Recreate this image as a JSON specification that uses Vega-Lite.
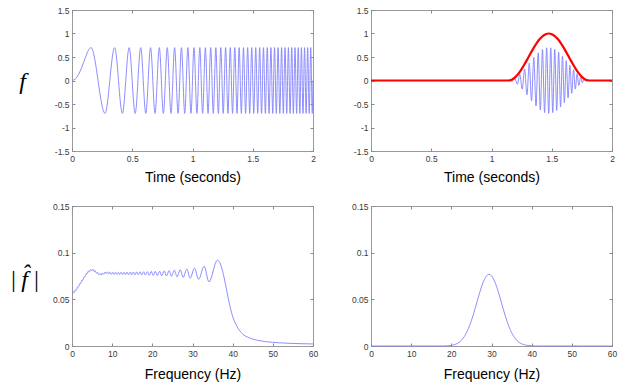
{
  "$schema": "https://vega.github.io/schema/vega-lite/v6.json",
  "background": "white",
  "padding": {"left": 8, "top": 5, "right": 5, "bottom": 5},
  "bounds": "flush",
  "spacing": {"row": 55, "column": 58},
  "columns": 2,
  "config": {
    "font": "Liberation Sans",
    "view": {"stroke": "#9a9a9a", "strokeWidth": 1},
    "axis": {"domain": false, "grid": false, "ticks": true, "tickSize": -3, "tickColor": "#8a8a8a", "tickWidth": 1, "labelFontSize": 8.5, "labelColor": "#3a3a3a", "labelFont": "Liberation Sans", "labelFlush": false, "labelOverlap": false, "titleFont": "Liberation Sans", "titleFontSize": 14, "titleFontWeight": "normal", "titleColor": "#000000", "labelPadding": 6}
  },
  "datasets": {
    "chirp": [{"t":0,"v":0},{"t":0.0354,"v":0.055},{"t":0.0559,"v":0.137},{"t":0.0791,"v":0.268},{"t":0.1118,"v":0.495},{"t":0.1369,"v":0.647},{"t":0.1581,"v":0.7},{"t":0.2739,"v":-0.7},{"t":0.3536,"v":0.7},{"t":0.4183,"v":-0.7},{"t":0.4743,"v":0.7},{"t":0.5244,"v":-0.7},{"t":0.5701,"v":0.7},{"t":0.6124,"v":-0.7},{"t":0.6519,"v":0.7},{"t":0.6892,"v":-0.7},{"t":0.7246,"v":0.7},{"t":0.7583,"v":-0.7},{"t":0.7906,"v":0.7},{"t":0.8216,"v":-0.7},{"t":0.8515,"v":0.7},{"t":0.8803,"v":-0.7},{"t":0.9083,"v":0.7},{"t":0.9354,"v":-0.7},{"t":0.9618,"v":0.7},{"t":0.9874,"v":-0.7},{"t":1.0124,"v":0.7},{"t":1.0368,"v":-0.7},{"t":1.0607,"v":0.7},{"t":1.084,"v":-0.7},{"t":1.1068,"v":0.7},{"t":1.1292,"v":-0.7},{"t":1.1511,"v":0.7},{"t":1.1726,"v":-0.7},{"t":1.1937,"v":0.7},{"t":1.2145,"v":-0.7},{"t":1.2349,"v":0.7},{"t":1.255,"v":-0.7},{"t":1.2748,"v":0.7},{"t":1.2942,"v":-0.7},{"t":1.3134,"v":0.7},{"t":1.3323,"v":-0.7},{"t":1.3509,"v":0.7},{"t":1.3693,"v":-0.7},{"t":1.3874,"v":0.7},{"t":1.4053,"v":-0.7},{"t":1.423,"v":0.7},{"t":1.4405,"v":-0.7},{"t":1.4577,"v":0.7},{"t":1.4748,"v":-0.7},{"t":1.4916,"v":0.7},{"t":1.5083,"v":-0.7},{"t":1.5248,"v":0.7},{"t":1.5411,"v":-0.7},{"t":1.5572,"v":0.7},{"t":1.5732,"v":-0.7},{"t":1.589,"v":0.7},{"t":1.6047,"v":-0.7},{"t":1.6202,"v":0.7},{"t":1.6355,"v":-0.7},{"t":1.6508,"v":0.7},{"t":1.6658,"v":-0.7},{"t":1.6808,"v":0.7},{"t":1.6956,"v":-0.7},{"t":1.7103,"v":0.7},{"t":1.7248,"v":-0.7},{"t":1.7393,"v":0.7},{"t":1.7536,"v":-0.7},{"t":1.7678,"v":0.7},{"t":1.7819,"v":-0.7},{"t":1.7958,"v":0.7},{"t":1.8097,"v":-0.7},{"t":1.8235,"v":0.7},{"t":1.8371,"v":-0.7},{"t":1.8507,"v":0.7},{"t":1.8641,"v":-0.7},{"t":1.8775,"v":0.7},{"t":1.8908,"v":-0.7},{"t":1.9039,"v":0.7},{"t":1.917,"v":-0.7},{"t":1.93,"v":0.7},{"t":1.9429,"v":-0.7},{"t":1.9558,"v":0.7},{"t":1.9685,"v":-0.7},{"t":1.9812,"v":0.7},{"t":1.9937,"v":-0.7},{"t":2,"v":0}],
    "windowed": [{"t":0,"v":0},{"t":1.13,"v":0},{"t":1.1511,"v":0.0019},{"t":1.1726,"v":-0.0162},{"t":1.1937,"v":0.0434},{"t":1.2145,"v":-0.0814},{"t":1.2349,"v":0.1297},{"t":1.255,"v":-0.1847},{"t":1.2748,"v":0.2445},{"t":1.2942,"v":-0.3065},{"t":1.3134,"v":0.3694},{"t":1.3323,"v":-0.4307},{"t":1.3509,"v":0.4885},{"t":1.3693,"v":-0.5417},{"t":1.3874,"v":0.5884},{"t":1.4053,"v":-0.6279},{"t":1.423,"v":0.6592},{"t":1.4405,"v":-0.6818},{"t":1.4577,"v":0.6954},{"t":1.4748,"v":-0.7},{"t":1.4916,"v":0.6958},{"t":1.5083,"v":-0.6831},{"t":1.5248,"v":0.6626},{"t":1.5411,"v":-0.635},{"t":1.5572,"v":0.6011},{"t":1.5732,"v":-0.5617},{"t":1.589,"v":0.5183},{"t":1.6047,"v":-0.4715},{"t":1.6202,"v":0.4227},{"t":1.6355,"v":-0.373},{"t":1.6508,"v":0.3227},{"t":1.6658,"v":-0.2742},{"t":1.6808,"v":0.227},{"t":1.6956,"v":-0.183},{"t":1.7103,"v":0.1421},{"t":1.7248,"v":-0.1058},{"t":1.7393,"v":0.0739},{"t":1.7536,"v":-0.0478},{"t":1.7678,"v":0.0271},{"t":1.7819,"v":-0.0121},{"t":1.7958,"v":0.0031},{"t":1.8097,"v":0},{"t":2,"v":0}],
    "window": [{"t":0,"v":0},{"t":1.14,"v":0},{"t":1.15,"v":0.0022},{"t":1.175,"v":0.0267},{"t":1.2,"v":0.0771},{"t":1.225,"v":0.1501},{"t":1.25,"v":0.2427},{"t":1.275,"v":0.3497},{"t":1.3,"v":0.4647},{"t":1.325,"v":0.5816},{"t":1.35,"v":0.694},{"t":1.375,"v":0.7958},{"t":1.4,"v":0.8813},{"t":1.425,"v":0.946},{"t":1.45,"v":0.9863},{"t":1.475,"v":1},{"t":1.5,"v":0.9863},{"t":1.525,"v":0.946},{"t":1.55,"v":0.8813},{"t":1.575,"v":0.7958},{"t":1.6,"v":0.694},{"t":1.625,"v":0.5816},{"t":1.65,"v":0.4647},{"t":1.675,"v":0.3497},{"t":1.7,"v":0.2427},{"t":1.725,"v":0.1501},{"t":1.75,"v":0.0771},{"t":1.775,"v":0.0267},{"t":1.8,"v":0.0022},{"t":1.81,"v":0},{"t":2,"v":0}],
    "spec1": [{"f":0,"a":0.056},{"f":0.1,"a":0.0557},{"f":0.37,"a":0.0583},{"f":0.61,"a":0.0576},{"f":0.88,"a":0.0603},{"f":1.12,"a":0.06},{"f":1.39,"a":0.0633},{"f":1.63,"a":0.0633},{"f":1.92,"a":0.0668},{"f":2.16,"a":0.0668},{"f":2.44,"a":0.0703},{"f":2.69,"a":0.0704},{"f":2.98,"a":0.074},{"f":3.23,"a":0.074},{"f":3.53,"a":0.0775},{"f":3.78,"a":0.0772},{"f":4.08,"a":0.0803},{"f":4.34,"a":0.0795},{"f":4.64,"a":0.082},{"f":4.9,"a":0.0805},{"f":5.21,"a":0.0821},{"f":5.47,"a":0.0799},{"f":5.79,"a":0.0807},{"f":6.06,"a":0.0779},{"f":6.38,"a":0.0788},{"f":6.65,"a":0.0764},{"f":6.98,"a":0.0776},{"f":7.26,"a":0.0759},{"f":7.59,"a":0.0782},{"f":7.88,"a":0.0768},{"f":8.21,"a":0.0792},{"f":8.5,"a":0.0775},{"f":8.85,"a":0.0794},{"f":9.15,"a":0.0772},{"f":9.5,"a":0.0791},{"f":9.8,"a":0.0768},{"f":10.16,"a":0.079},{"f":10.47,"a":0.0766},{"f":10.84,"a":0.079},{"f":11.16,"a":0.0766},{"f":11.53,"a":0.079},{"f":11.86,"a":0.0766},{"f":12.24,"a":0.0791},{"f":12.58,"a":0.0765},{"f":12.97,"a":0.0791},{"f":13.32,"a":0.0764},{"f":13.72,"a":0.0792},{"f":14.08,"a":0.0764},{"f":14.5,"a":0.0793},{"f":14.86,"a":0.0763},{"f":15.29,"a":0.0793},{"f":15.67,"a":0.0762},{"f":16.12,"a":0.0794},{"f":16.51,"a":0.0762},{"f":16.97,"a":0.0795},{"f":17.37,"a":0.0761},{"f":17.86,"a":0.0796},{"f":18.27,"a":0.076},{"f":18.78,"a":0.0797},{"f":19.22,"a":0.0758},{"f":19.74,"a":0.0799},{"f":20.2,"a":0.0757},{"f":20.75,"a":0.08},{"f":21.24,"a":0.0755},{"f":21.82,"a":0.0802},{"f":22.34,"a":0.0753},{"f":22.96,"a":0.0805},{"f":23.51,"a":0.075},{"f":24.18,"a":0.0808},{"f":24.77,"a":0.0747},{"f":25.49,"a":0.0812},{"f":26.14,"a":0.0742},{"f":26.95,"a":0.0818},{"f":27.67,"a":0.0735},{"f":28.58,"a":0.0825},{"f":29.42,"a":0.0727},{"f":30.49,"a":0.0835},{"f":31.51,"a":0.0714},{"f":32.9,"a":0.0854},{"f":34.1,"a":0.0687},{"f":36.2,"a":0.092},{"f":36.8,"a":0.0893},{"f":37.42,"a":0.0813},{"f":38.26,"a":0.0652},{"f":39.08,"a":0.0473},{"f":39.91,"a":0.0329},{"f":41.15,"a":0.0204},{"f":42.4,"a":0.0132},{"f":44.06,"a":0.0089},{"f":46.55,"a":0.0058},{"f":49.87,"a":0.004},{"f":54.02,"a":0.0029},{"f":60,"a":0.0022}],
    "spec2": [{"f":0,"a":0},{"f":18,"a":0},{"f":19,"a":0.0002},{"f":20,"a":0.0007},{"f":21,"a":0.0018},{"f":22,"a":0.0041},{"f":23,"a":0.0086},{"f":24,"a":0.0162},{"f":25,"a":0.0273},{"f":26,"a":0.0414},{"f":27,"a":0.0564},{"f":28,"a":0.0691},{"f":29,"a":0.0761},{"f":29.4,"a":0.0767},{"f":30,"a":0.0752},{"f":31,"a":0.0669},{"f":32,"a":0.0535},{"f":33,"a":0.0384},{"f":34,"a":0.0248},{"f":35,"a":0.0144},{"f":36,"a":0.0075},{"f":37,"a":0.0035},{"f":38,"a":0.0015},{"f":39,"a":0.0006},{"f":40,"a":0.0002},{"f":41,"a":0},{"f":60,"a":0}]
  },
  "concat": [
    {
      "width": 241, "height": 141,
      "data": {"name": "chirp"},
      "layer": [
        {
          "mark": {"type": "line", "color": "#8080ff", "strokeWidth": 0.9, "interpolate": "monotone"},
          "encoding": {
            "x": {"field": "t", "type": "quantitative", "scale": {"domain": [0, 2], "nice": false}, "axis": {"values": [0, 0.5, 1, 1.5, 2], "labelExpr": "'' + datum.value", "title": "Time (seconds)", "titlePadding": 8}},
            "y": {"field": "v", "type": "quantitative", "scale": {"domain": [-1.5, 1.5], "nice": false}, "axis": {"values": [-1.5, -1, -0.5, 0, 0.5, 1, 1.5], "labelExpr": "'' + datum.value", "title": "f", "titleAngle": 0, "titleAlign": "center", "titleBaseline": "middle", "titleX": -50, "titleY": 71, "titleFont": "Liberation Serif", "titleFontStyle": "italic", "titleFontSize": 24}}
          }
        },
        {
          "mark": {"type": "line", "strokeOpacity": 0},
          "encoding": {
            "x": {"field": "t", "type": "quantitative", "axis": {"orient": "top", "labels": false, "title": null, "values": [0, 0.5, 1, 1.5, 2]}},
            "y": {"field": "v", "type": "quantitative", "axis": {"orient": "right", "labels": false, "title": null, "values": [-1.5, -1, -0.5, 0, 0.5, 1, 1.5]}}
          }
        }
      ],
      "resolve": {"axis": {"x": "independent", "y": "independent"}}
    },
    {
      "width": 241, "height": 141,
      "layer": [
        {
          "data": {"name": "windowed"},
          "mark": {"type": "line", "color": "#8080ff", "strokeWidth": 0.9, "interpolate": "monotone"},
          "encoding": {
            "x": {"field": "t", "type": "quantitative", "scale": {"domain": [0, 2], "nice": false}, "axis": {"values": [0, 0.5, 1, 1.5, 2], "labelExpr": "'' + datum.value", "title": "Time (seconds)", "titlePadding": 8}},
            "y": {"field": "v", "type": "quantitative", "scale": {"domain": [-1.5, 1.5], "nice": false}, "axis": {"values": [-1.5, -1, -0.5, 0, 0.5, 1, 1.5], "labelExpr": "'' + datum.value", "title": null}}
          }
        },
        {
          "data": {"name": "window"},
          "mark": {"type": "line", "color": "#ff0000", "strokeWidth": 2.2, "interpolate": "monotone"},
          "encoding": {
            "x": {"field": "t", "type": "quantitative", "axis": {"orient": "top", "labels": false, "title": null, "values": [0, 0.5, 1, 1.5, 2]}},
            "y": {"field": "v", "type": "quantitative", "axis": {"orient": "right", "labels": false, "title": null, "values": [-1.5, -1, -0.5, 0, 0.5, 1, 1.5]}}
          }
        }
      ],
      "resolve": {"axis": {"x": "independent", "y": "independent"}}
    },
    {
      "width": 241, "height": 140,
      "data": {"name": "spec1"},
      "layer": [
        {
          "mark": {"type": "line", "color": "#8080ff", "strokeWidth": 0.9, "interpolate": "monotone"},
          "encoding": {
            "x": {"field": "f", "type": "quantitative", "scale": {"domain": [0, 60], "nice": false}, "axis": {"values": [0, 10, 20, 30, 40, 50, 60], "labelExpr": "'' + datum.value", "title": "Frequency (Hz)", "titlePadding": 10}},
            "y": {"field": "a", "type": "quantitative", "scale": {"domain": [0, 0.15], "nice": false}, "axis": {"values": [0, 0.05, 0.1, 0.15], "labelExpr": "'' + datum.value", "title": "|\u2009f\u0302\u2009|", "titleAngle": 0, "titleAlign": "center", "titleBaseline": "middle", "titleX": -48, "titleY": 73, "titleFont": "Liberation Serif", "titleFontStyle": "italic", "titleFontSize": 24}}
          }
        },
        {
          "mark": {"type": "line", "strokeOpacity": 0},
          "encoding": {
            "x": {"field": "f", "type": "quantitative", "axis": {"orient": "top", "labels": false, "title": null, "values": [0, 10, 20, 30, 40, 50, 60]}},
            "y": {"field": "a", "type": "quantitative", "axis": {"orient": "right", "labels": false, "title": null, "values": [0, 0.05, 0.1, 0.15]}}
          }
        }
      ],
      "resolve": {"axis": {"x": "independent", "y": "independent"}}
    },
    {
      "width": 241, "height": 140,
      "data": {"name": "spec2"},
      "layer": [
        {
          "mark": {"type": "line", "color": "#8080ff", "strokeWidth": 0.9, "interpolate": "monotone"},
          "encoding": {
            "x": {"field": "f", "type": "quantitative", "scale": {"domain": [0, 60], "nice": false}, "axis": {"values": [0, 10, 20, 30, 40, 50, 60], "labelExpr": "'' + datum.value", "title": "Frequency (Hz)", "titlePadding": 10}},
            "y": {"field": "a", "type": "quantitative", "scale": {"domain": [0, 0.15], "nice": false}, "axis": {"values": [0, 0.05, 0.1, 0.15], "labelExpr": "'' + datum.value", "title": null}}
          }
        },
        {
          "mark": {"type": "line", "strokeOpacity": 0},
          "encoding": {
            "x": {"field": "f", "type": "quantitative", "axis": {"orient": "top", "labels": false, "title": null, "values": [0, 10, 20, 30, 40, 50, 60]}},
            "y": {"field": "a", "type": "quantitative", "axis": {"orient": "right", "labels": false, "title": null, "values": [0, 0.05, 0.1, 0.15]}}
          }
        }
      ],
      "resolve": {"axis": {"x": "independent", "y": "independent"}}
    }
  ]
}
